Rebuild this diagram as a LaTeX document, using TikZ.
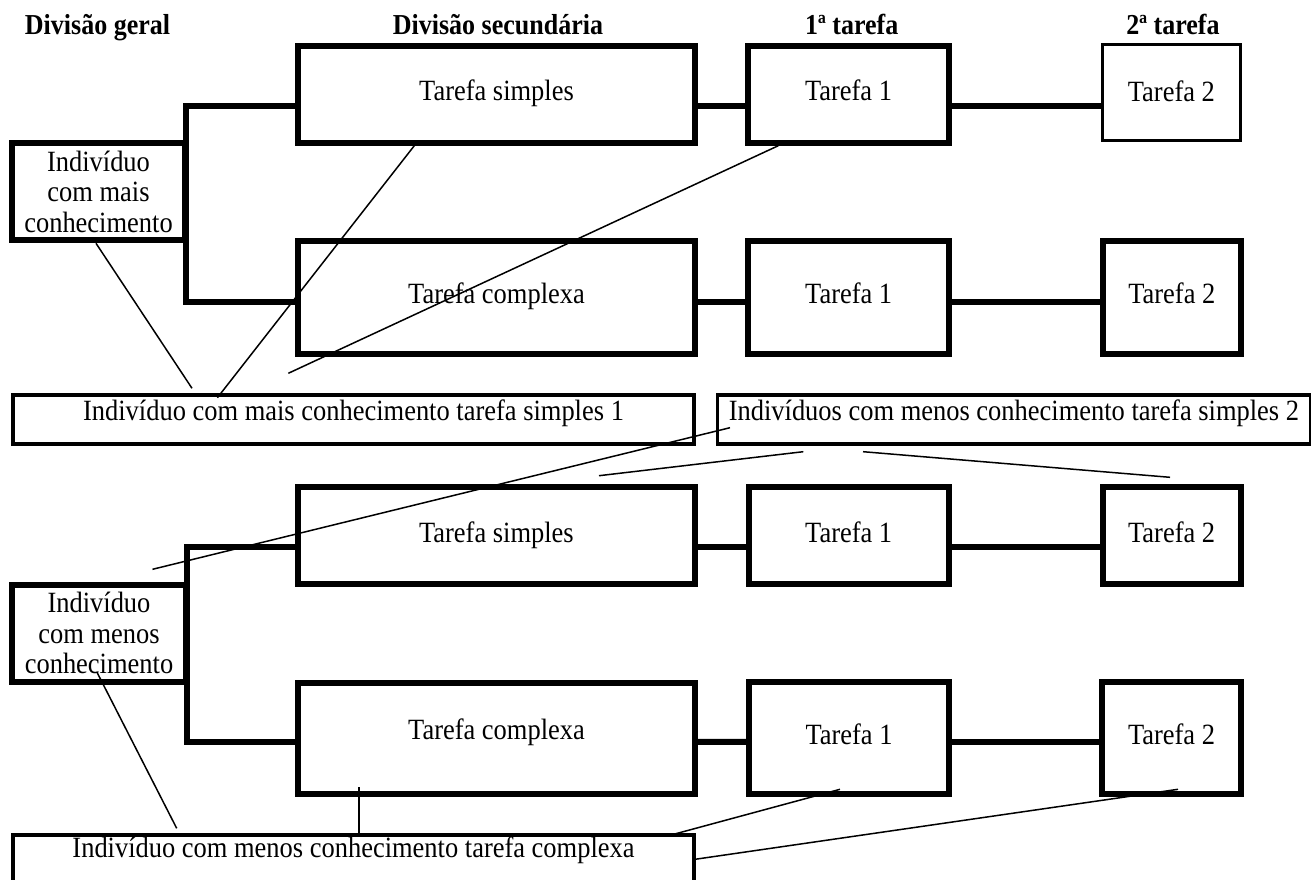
\documentclass[tikz,border=0pt]{standalone}
\usepackage{fontspec}
\setmainfont{Liberation Serif}
\newfontfamily\diagfamily[FakeStretch=0.9]{Liberation Serif}
\newcommand{\diagbody}{\diagfamily\fontsize{29.4pt}{30.5pt}\selectfont}
\newcommand{\diaghead}{\diagfamily\fontsize{28.9pt}{30pt}\selectfont\bfseries}
\begin{document}
\begin{tikzpicture}[x=1pt,y=-1pt,
  base/.style={rectangle, draw, inner sep=0pt, outer sep=0pt, font=\diagbody, line join=miter},
  heavy/.style={base, line width=6pt},
  task/.style={heavy, text height=17pt, text depth=4pt},
  who/.style={heavy, align=center},
  note/.style={base, line width=3.4pt},
  lite/.style={base, line width=2.7pt},
  link/.style={line width=6pt, line join=miter},
  pointer/.style={line width=1.5pt},
  head/.style={font=\diaghead, inner sep=0pt, anchor=base}]

% page area
\fill[white] (0,0) rectangle (1311,880);
\useasboundingbox (0,0) rectangle (1311,880);
\clip (0,0) rectangle (1311,880);

% column headings
\node[head] (hgeral)  at (97.5,35)  {Divisão geral};
\node[head] (hsec)    at (498,35)   {Divisão secundária};
\node[head] (hfirst)  at (851.7,35) {1ª tarefa};
\node[head] (hsecond) at (1173,35)  {2ª tarefa};

% upper group: individual with more knowledge
\node[who, minimum width=173pt, minimum height=97pt] (indA) at (98.5,191.5)
  {Indivíduo\\com mais\\conhecimento};
\node[task, minimum width=397pt, minimum height=97pt] (simA) at (496.5,94.5) {Tarefa simples};
\node[task, minimum width=201pt, minimum height=97pt] (t1A) at (848.5,94.5) {Tarefa 1};
\node[lite, text height=20pt, text depth=1.6pt, minimum width=137.8pt, minimum height=95.6pt]
  (t2A) at (1171.4,92.5) {Tarefa 2};
\node[task, minimum width=397pt, minimum height=113.3pt] (cxA) at (496.5,297.4) {Tarefa complexa};
\node[task, minimum width=200.5pt, minimum height=113.3pt] (t1B) at (848.7,297.4) {Tarefa 1};
\node[task, minimum width=138.3pt, minimum height=113.3pt] (t2B) at (1171.8,297.4) {Tarefa 2};

\draw[link] ([yshift=-11.5pt]simA.west) -| ([xshift=1pt]indA.east) |- ([yshift=-4.6pt]cxA.west);
\draw[link] ([yshift=-11.5pt]simA.east) -- ([yshift=-11.5pt]t1A.west);
\draw[link] ([yshift=-11.5pt]t1A.east) -- ([yshift=-13.5pt]t2A.west);
\draw[link] ([yshift=-4.6pt]cxA.east) -- ([yshift=-4.6pt]t1B.west);
\draw[link] ([yshift=-4.6pt]t1B.east) -- ([yshift=-4.6pt]t2B.west);

% lower group: individual with less knowledge
\node[who, minimum width=173.4pt, minimum height=97.3pt] (indC) at (99,633.4)
  {Indivíduo\\com menos\\conhecimento};
\node[task, minimum width=396.7pt, minimum height=97pt] (simC) at (496.4,535.5) {Tarefa simples};
\node[task, minimum width=200pt, minimum height=97pt] (t1C) at (848.7,535.5) {Tarefa 1};
\node[task, minimum width=137.8pt, minimum height=97pt] (t2C) at (1171.6,535.5) {Tarefa 2};
\node[heavy, text height=17pt, text depth=16pt, minimum width=397pt, minimum height=111pt]
  (cxD) at (496.5,738.5) {Tarefa complexa};
\node[task, minimum width=200pt, minimum height=112pt] (t1D) at (849,738.3) {Tarefa 1};
\node[task, minimum width=139pt, minimum height=112pt] (t2D) at (1171.5,738.3) {Tarefa 2};

\draw[link] ([yshift=-11.5pt]simC.west) -| ([xshift=1pt]indC.east) |- ([yshift=-3.5pt]cxD.west);
\draw[link] ([yshift=-11.5pt]simC.east) -- ([yshift=-11.5pt]t1C.west);
\draw[link] ([yshift=-11.5pt]t1C.east) -- ([yshift=-11.5pt]t2C.west);
\draw[link] ([yshift=-3.5pt]cxD.east) -- ([yshift=-3.5pt]t1D.west);
\draw[link] ([yshift=-3.5pt]t1D.east) -- ([yshift=-3.5pt]t2D.west);

% assignment notes
\node[note, text height=25pt, text depth=24pt, minimum width=681pt] (m1) at (353.5,419.5)
  {Indivíduo com mais conhecimento tarefa simples 1};
\node[note, text height=25pt, text depth=24pt, minimum width=593.2pt] (m2) at (1013.9,419.5)
  {Indivíduos com menos conhecimento tarefa simples 2};
\node[note, text height=22pt, text depth=43pt, minimum width=681pt] (m3) at (353.5,867.5)
  {Indivíduo com menos conhecimento tarefa complexa};

% pointer ends
\coordinate (p1a) at (96,243.3);    \coordinate (p1b) at (192,388.3);
\coordinate (p2a) at (414.3,145.7); \coordinate (p2b) at (217.4,397.7);
\coordinate (p3a) at (778.3,145.7); \coordinate (p3b) at (288.3,373.3);
\coordinate (p4a) at (730,427.7);   \coordinate (p4b) at (152.5,569.3);
\coordinate (p5a) at (803.3,451.7); \coordinate (p5b) at (599,475.7);
\coordinate (p6a) at (863,451.7);   \coordinate (p6b) at (1170,477.3);
\coordinate (p7a) at (96.7,671.7);  \coordinate (p7b) at (176.7,828.3);
\coordinate (p8a) at (359,787.3);   \coordinate (p8b) at (359,836.7);
\coordinate (p9a) at (671,835);     \coordinate (p9b) at (840,789.3);
\coordinate (p10a) at (695,859.3);  \coordinate (p10b) at (1178,789.3);

% pointers from the notes to the boxes
\draw[pointer] (p1a) -- (p1b);
\draw[pointer] (p2a) -- (p2b);
\draw[pointer] (p3a) -- (p3b);
\draw[pointer] (p4a) -- (p4b);
\draw[pointer] (p5a) -- (p5b);
\draw[pointer] (p6a) -- (p6b);
\draw[pointer] (p7a) -- (p7b);
\draw[pointer] (p8a) -- (p8b);
\draw[pointer] (p9a) -- (p9b);
\draw[pointer] (p10a) -- (p10b);
\end{tikzpicture}
\end{document}
